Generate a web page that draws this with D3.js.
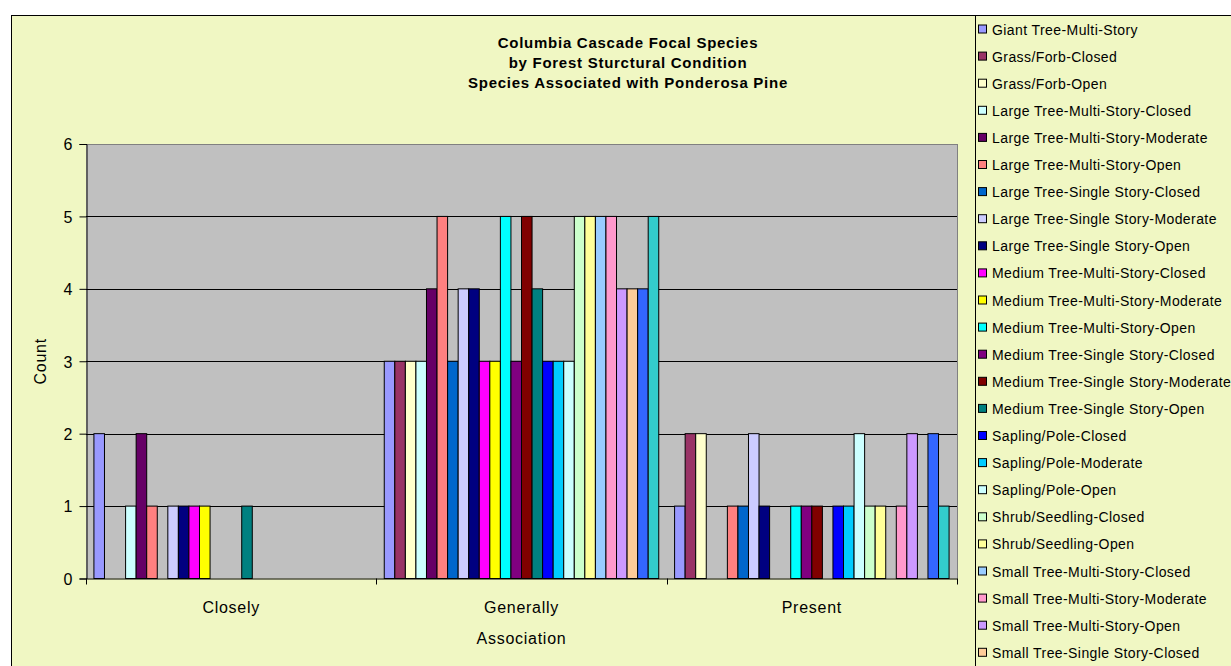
<!DOCTYPE html>
<html><head><meta charset="utf-8">
<script src="https://cdn.jsdelivr.net/npm/d3@7"></script>
<style>body{margin:0;background:#fff;overflow:hidden}svg{display:block;font-family:Arial,"Liberation Sans",sans-serif}</style>
</head><body>
<svg id="c" width="1231" height="666"></svg>
<script>
const categories = ["Closely", "Generally", "Present"];
const seriesNames = [
 "Giant Tree-Multi-Story","Grass/Forb-Closed","Grass/Forb-Open","Large Tree-Multi-Story-Closed",
 "Large Tree-Multi-Story-Moderate","Large Tree-Multi-Story-Open","Large Tree-Single Story-Closed",
 "Large Tree-Single Story-Moderate","Large Tree-Single Story-Open","Medium Tree-Multi-Story-Closed",
 "Medium Tree-Multi-Story-Moderate","Medium Tree-Multi-Story-Open","Medium Tree-Single Story-Closed",
 "Medium Tree-Single Story-Moderate","Medium Tree-Single Story-Open","Sapling/Pole-Closed",
 "Sapling/Pole-Moderate","Sapling/Pole-Open","Shrub/Seedling-Closed","Shrub/Seedling-Open",
 "Small Tree-Multi-Story-Closed","Small Tree-Multi-Story-Moderate","Small Tree-Multi-Story-Open",
 "Small Tree-Single Story-Closed","Small Tree-Single Story-Moderate","Small Tree-Single Story-Open"];
const colors = ["#9999FF","#993366","#FFFFCC","#CCFFFF","#660066","#FF8080","#0066CC","#CCCCFF",
 "#000080","#FF00FF","#FFFF00","#00FFFF","#800080","#800000","#008080","#0000FF","#00CCFF",
 "#CCFFFF","#CCFFCC","#FFFF99","#99CCFF","#FF99CC","#CC99FF","#FFCC99","#3366FF","#33CCCC"];
const closelyValues   = [2,0,0,1,2,1,0,1,1,1,1,0,0,0,1,0,0,0,0,0,0,0,0,0,0,0];
const generallyValues = [3,3,3,3,4,5,3,4,4,3,3,5,3,5,4,3,3,3,5,5,5,5,4,4,4,5];
const presentValues   = [1,2,2,0,0,1,1,2,1,0,0,1,1,1,0,1,1,2,1,1,0,1,2,0,2,1];
const yTicks = [0,1,2,3,4,5,6];
const titleLines = ["Columbia Cascade Focal Species","by Forest Sturctural Condition","Species Associated with Ponderosa Pine"];

const valuesByCat = [closelyValues, generallyValues, presentValues];
const svg = d3.select("#c");
const bg = "#F0F7C3";

// helper: letter spacing so that a sample text reaches a target width
function spacingFor(text, size, weight, target){
  const t = svg.append("text").attr("font-size",size).attr("font-weight",weight).text(text);
  const w = t.node().getComputedTextLength(); t.remove();
  return Math.max(0,(target - w)/text.length);
}

// chart area
svg.append("rect").attr("x",11.5).attr("y",15.5).attr("width",1300).attr("height",700)
  .attr("fill",bg).attr("stroke","#000").attr("stroke-width",1);

const L=86, R=957, T=144, B=578.5;
const x0 = d3.scaleBand().domain(categories).range([L,R]).padding(0);
const x1 = d3.scaleBand().domain(d3.range(seriesNames.length)).range([0,x0.bandwidth()]).paddingInner(0).paddingOuter(0.75);
const y = d3.scaleLinear().domain([0,6]).range([B,T]);

svg.append("rect").attr("x",L).attr("y",T).attr("width",R-L).attr("height",B-T).attr("fill","#C0C0C0");
svg.append("g").selectAll("line").data(yTicks.filter(d=>d>0)).join("line")
  .attr("x1",L).attr("x2",R).attr("y1",d=>Math.round(y(d))+0.5).attr("y2",d=>Math.round(y(d))+0.5)
  .attr("stroke",d=>d===6?"#808080":"#000").attr("stroke-width",1);
svg.append("line").attr("x1",R+0.5).attr("x2",R+0.5).attr("y1",T).attr("y2",B).attr("stroke","#808080");

const g = svg.append("g");
categories.forEach((c,ci)=>{
  g.append("g").attr("transform",`translate(${x0(c)},0)`).selectAll("rect")
   .data(valuesByCat[ci].map((v,i)=>({v,i})).filter(d=>d.v>0)).join("rect")
   .attr("x",d=>x1(d.i)).attr("width",x1.bandwidth())
   .attr("y",d=>y(d.v)).attr("height",d=>B-y(d.v))
   .attr("fill",d=>colors[d.i]).attr("stroke","#000").attr("stroke-width",1);
});

const axSize = 16;
const axSp = spacingFor("Generally", axSize, "normal", 75);

const ya = svg.append("g").attr("transform",`translate(${L+0.5},0)`)
  .call(d3.axisLeft(y).tickValues(yTicks).tickFormat(d3.format("d")).tickSize(7).tickPadding(7));
ya.select(".domain").attr("stroke","#000");
ya.selectAll("text").attr("font-size",axSize).attr("font-family","Arial,Liberation Sans").attr("fill","#000").attr("dy","0.36em");
ya.selectAll("line").attr("stroke","#000");

const xa = svg.append("g").attr("transform",`translate(0,${B})`)
  .call(d3.axisBottom(x0).tickSize(0).tickPadding(0));
xa.select(".domain").attr("stroke","#000");
xa.selectAll("text").attr("font-size",axSize).attr("font-family","Arial,Liberation Sans").attr("fill","#000")
  .attr("dy",null).attr("y",34).attr("letter-spacing",axSp);
svg.append("g").selectAll("line").data([...categories.map(c=>x0(c)),R]).join("line")
  .attr("x1",d=>Math.round(d)+0.5).attr("x2",d=>Math.round(d)+0.5).attr("y1",B).attr("y2",B+6).attr("stroke","#000");

svg.append("text").attr("x",(L+R)/2).attr("y",644).attr("text-anchor","middle")
  .attr("font-size",axSize).attr("letter-spacing",axSp).text("Association");
svg.append("text").attr("transform",`translate(46,${(T+B)/2}) rotate(-90)`).attr("text-anchor","middle")
  .attr("font-size",axSize).attr("letter-spacing",axSp).text("Count");

// title
const tSp = spacingFor(titleLines[2], 15, "bold", 320);
svg.append("g").selectAll("text").data(titleLines).join("text")
  .attr("x",628).attr("y",(d,i)=>48+i*20).attr("text-anchor","middle")
  .attr("font-size",15).attr("font-weight","bold").attr("letter-spacing",tSp).text(d=>d);

// legend
svg.append("rect").attr("x",975.5).attr("y",15.5).attr("width",300).attr("height",700)
  .attr("fill",bg).attr("stroke","#000");
const lSp = spacingFor(seriesNames[0], 14, "normal", 146);
const rowY = i => 29.5 + i*27.1;
const lg = svg.append("g").selectAll("g").data(seriesNames.filter((d,i)=>rowY(i)+6 < 666)).join("g")
  .attr("transform",(d,i)=>`translate(978,${rowY(i)})`);
lg.append("rect").attr("x",0.5).attr("y",-4.5).attr("width",8).attr("height",8)
  .attr("fill",(d,i)=>colors[i]).attr("stroke","#000");
lg.append("text").attr("x",14).attr("y",5).attr("font-size",14).attr("letter-spacing",lSp).text(d=>d);
</script>
</body></html>
